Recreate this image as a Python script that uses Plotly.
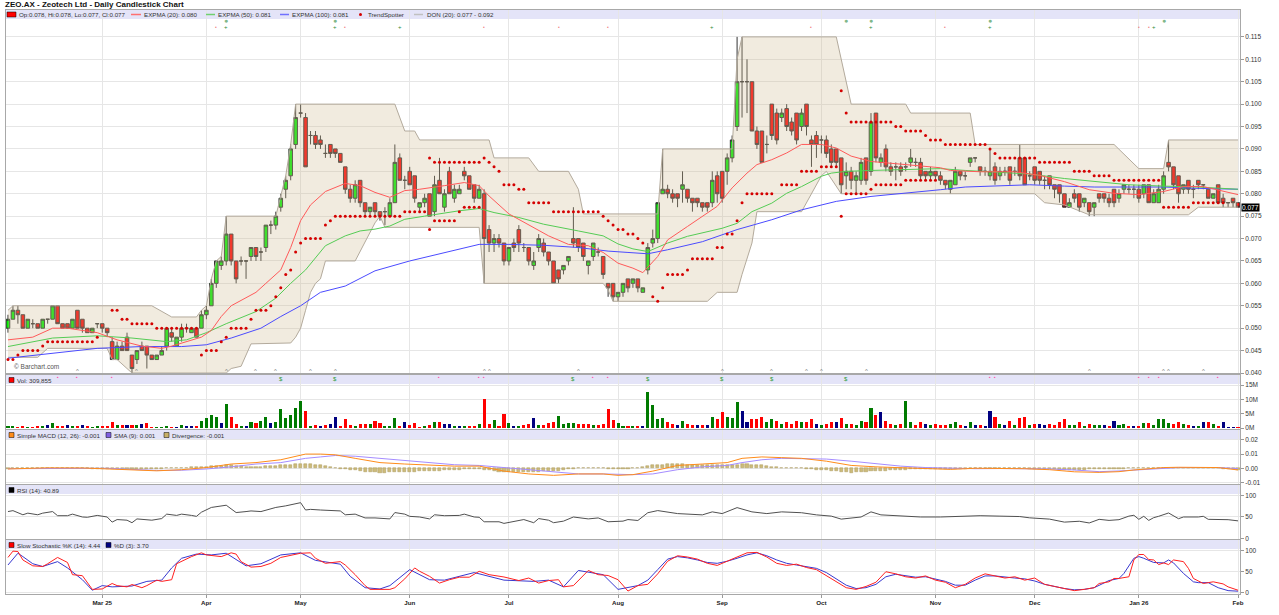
import plotly.graph_objects as go

# ---------------- DATA ----------------
month_labels = ["Mar 25", "Apr", "May", "Jun", "Jul", "Aug", "Sep", "Oct", "Nov", "Dec", "Jan 26", "Feb"]
month_start_idx = [19, 40, 59, 81, 101, 123, 144, 164, 187, 207, 228, 248]

opens = [.050,.052,.054,.053,.050,.051,.051,.050,.052,.052,
 .055,.051,.051,.050,.054,.052,.050,.049,.051,.051,
 .050,.047,.043,.046,.048,.044,.043,.046,.046,.044,
 .043,.044,.046,.049,.046,.048,.050,.049,.050,.050,
 .053,.055,.060,.064,.065,.071,.065,.065,.065,.066,
 .068,.067,.068,.073,.073,.077,.081,.084,.091,.098,
 .097,.093,.093,.092,.089,.091,.090,.089,.086,.081,
 .079,.083,.078,.076,.078,.076,.076,.075,.078,.088,
 .083,.085,.084,.077,.078,.080,.076,.083,.077,.085,
 .079,.080,.085,.084,.082,.079,.080,.072,.069,.070,
 .069,.065,.069,.072,.068,.068,.064,.068,.069,.067,
 .065,.063,.063,.065,.070,.070,.069,.064,.066,.067,
 .066,.060,.060,.057,.058,.061,.060,.061,.058,.063,
 .069,.070,.080,.081,.080,.080,.081,.081,.079,.079,
 .078,.078,.078,.084,.085,.085,.088,.095,.105,.105,
 .105,.094,.094,.091,.100,.098,.097,.099,.096,.098,
 .095,.100,.092,.093,.092,.092,.090,.090,.088,.084,
 .085,.083,.083,.088,.085,.098,.087,.090,.086,.086,
 .086,.086,.087,.087,.087,.085,.084,.085,.084,.083,
 .081,.082,.085,.084,.087,.088,.086,.085,.084,.086,
 .084,.085,.086,.085,.088,.088,.084,.086,.085,.083,
 .084,.082,.082,.080,.077,.080,.080,.078,.078,.077,
 .080,.080,.079,.081,.079,.081,.081,.081,.081,.080,
 .082,.078,.078,.081,.087,.086,.084,.081,.083,.081,
 .083,.082,.081,.079,.082,.079,.078,.079,.078]
closes = [.052,.054,.053,.050,.052,.051,.050,.052,.052,.055,
 .051,.050,.050,.052,.050,.050,.049,.050,.051,.050,
 .049,.043,.046,.045,.045,.041,.045,.045,.044,.043,
 .044,.045,.050,.048,.048,.050,.050,.050,.048,.053,
 .054,.060,.065,.065,.071,.065,.061,.065,.065,.068,
 .066,.067,.073,.073,.075,.079,.083,.090,.097,.098,
 .086,.093,.091,.091,.089,.089,.089,.087,.081,.079,
 .082,.078,.076,.077,.076,.075,.076,.078,.087,.083,
 .083,.082,.079,.078,.079,.075,.082,.080,.080,.080,
 .081,.081,.084,.081,.079,.081,.070,.069,.070,.069,
 .065,.068,.068,.069,.068,.065,.065,.070,.067,.065,
 .060,.061,.064,.066,.069,.068,.066,.065,.069,.067,
 .062,.059,.057,.058,.060,.059,.061,.059,.059,.068,
 .070,.078,.081,.080,.079,.079,.082,.079,.078,.078,
 .077,.077,.083,.080,.079,.088,.092,.105,.105,.105,
 .094,.091,.087,.091,.093,.092,.098,.095,.094,.092,
 .098,.095,.091,.091,.092,.089,.087,.087,.082,.085,
 .083,.084,.087,.083,.096,.088,.088,.086,.085,.086,
 .085,.086,.088,.087,.084,.084,.085,.084,.083,.082,
 .083,.085,.084,.084,.088,.088,.085,.085,.085,.083,
 .085,.085,.083,.085,.084,.082,.084,.083,.083,.083,
 .082,.081,.080,.077,.078,.079,.077,.079,.076,.078,
 .079,.079,.078,.078,.080,.082,.081,.081,.079,.082,
 .078,.080,.081,.084,.086,.082,.080,.082,.081,.081,
 .082,.082,.079,.080,.078,.078,.078,.078,.077]
highs = [.053,.055,.055,.053,.052,.052,.051,.052,.052,.055,
 .055,.051,.051,.052,.054,.052,.050,.050,.051,.051,
 .050,.048,.047,.047,.049,.044,.045,.047,.046,.044,
 .044,.046,.050,.050,.048,.051,.051,.050,.050,.054,
 .055,.061,.065,.066,.075,.071,.065,.066,.065,.068,
 .068,.068,.073,.074,.076,.080,.084,.091,.100,.100,
 .098,.094,.094,.093,.091,.091,.090,.089,.086,.082,
 .083,.083,.078,.077,.078,.076,.077,.079,.091,.089,
 .084,.086,.084,.078,.080,.080,.084,.088,.081,.086,
 .082,.082,.086,.084,.082,.082,.081,.073,.071,.071,
 .069,.068,.070,.073,.069,.068,.067,.071,.070,.067,
 .065,.063,.064,.066,.077,.070,.069,.065,.069,.068,
 .066,.060,.060,.058,.060,.061,.061,.061,.059,.069,
 .072,.078,.090,.082,.081,.080,.085,.081,.079,.079,
 .078,.078,.085,.085,.085,.089,.093,.115,.115,.110,
 .105,.095,.094,.093,.100,.099,.099,.100,.097,.098,
 .099,.100,.093,.094,.093,.093,.091,.090,.088,.087,
 .086,.085,.088,.088,.098,.098,.089,.091,.087,.087,
 .087,.087,.090,.088,.088,.085,.086,.085,.085,.083,
 .083,.086,.085,.085,.088,.088,.086,.086,.090,.087,
 .086,.086,.086,.086,.091,.088,.085,.086,.085,.084,
 .084,.082,.082,.080,.079,.081,.080,.079,.078,.078,
 .080,.080,.080,.081,.081,.082,.082,.082,.082,.082,
 .082,.081,.082,.085,.092,.086,.084,.082,.083,.082,
 .083,.082,.081,.080,.082,.080,.078,.079,.078]
lows = [.049,.052,.051,.050,.050,.050,.050,.050,.051,.052,
 .051,.050,.050,.050,.050,.049,.049,.049,.050,.049,
 .048,.043,.043,.045,.045,.040,.042,.045,.041,.043,
 .043,.044,.045,.047,.046,.047,.049,.049,.048,.050,
 .052,.055,.059,.063,.064,.064,.060,.064,.061,.065,
 .065,.065,.067,.071,.072,.076,.079,.083,.090,.097,
 .086,.091,.090,.090,.088,.088,.088,.087,.080,.078,
 .078,.077,.075,.075,.075,.074,.073,.075,.078,.083,
 .081,.082,.078,.076,.077,.075,.075,.080,.076,.080,
 .078,.080,.083,.081,.078,.079,.060,.067,.067,.068,
 .064,.064,.067,.067,.067,.064,.063,.067,.066,.064,
 .060,.060,.062,.064,.068,.067,.065,.062,.065,.066,
 .061,.057,.056,.056,.057,.058,.059,.058,.058,.062,
 .068,.069,.080,.079,.078,.077,.078,.078,.076,.077,
 .076,.076,.077,.078,.078,.082,.087,.094,.097,.098,
 .094,.090,.087,.089,.092,.091,.096,.094,.093,.091,
 .094,.093,.086,.088,.089,.088,.086,.086,.080,.081,
 .081,.080,.082,.082,.084,.087,.086,.085,.084,.083,
 .084,.085,.086,.086,.083,.083,.083,.083,.082,.081,
 .080,.082,.083,.083,.086,.087,.084,.084,.083,.082,
 .083,.084,.082,.084,.083,.082,.083,.082,.082,.081,
 .081,.079,.078,.077,.077,.078,.076,.077,.075,.075,
 .078,.078,.077,.077,.078,.080,.080,.079,.078,.079,
 .078,.078,.078,.080,.085,.081,.078,.080,.080,.079,
 .081,.081,.079,.079,.078,.077,.077,.077,.077]
volume_m = [0.7,0.7,0.3,0.5,0.2,0.3,0.5,0.6,1.2,1.9,
 0.7,0.5,1.2,0.7,0.6,0.9,0.6,0.3,0.4,0.5,
 0.6,2.0,1.0,0.9,1.1,1.1,1.1,1.4,1.6,0.3,
 0.3,0.3,0.4,0.3,0.3,1.0,0.5,0.5,0.7,2.3,
 3.5,4.5,4.0,1.8,8.5,4.0,1.5,0.8,0.8,2.2,
 1.8,2.6,3.8,1.8,2.2,6.8,3.5,4.5,7.0,9.5,
 6.0,0.8,1.0,0.5,0.9,1.3,4.0,0.8,3.0,1.2,
 0.7,1.3,1.5,1.3,2.6,1.6,0.7,0.4,3.5,0.7,
 2.0,1.0,1.8,0.2,0.5,1.2,2.0,2.0,1.5,1.5,
 0.5,0.4,0.4,0.4,0.7,1.4,10.0,1.5,2.8,0.6,
 5.0,1.8,0.8,0.7,1.0,1.3,3.5,1.0,1.1,1.8,
 2.2,4.2,1.3,1.6,1.8,1.3,1.4,1.4,1.1,1.2,
 1.3,6.5,2.8,1.8,0.6,0.5,0.5,0.6,0.5,12.5,
 8.0,3.0,3.5,2.0,1.5,1.0,2.5,1.5,1.0,1.0,
 1.2,1.0,4.0,3.0,5.5,4.0,3.5,9.0,6.0,2.0,
 3.0,3.0,4.0,2.0,3.0,2.5,1.5,2.0,1.5,2.5,
 2.0,2.0,3.0,1.5,1.0,1.5,2.0,2.0,3.5,1.5,
 1.5,1.0,2.5,2.0,7.0,4.5,5.5,2.5,1.5,1.0,
 1.5,9.5,2.0,1.0,2.0,1.5,1.0,1.5,1.2,1.0,
 1.5,2.0,1.0,0.8,2.0,1.0,1.2,0.8,6.0,4.0,
 1.5,1.0,2.5,1.0,3.5,4.0,1.0,1.5,1.5,1.0,
 1.5,1.2,2.0,3.0,1.0,1.0,2.0,0.8,1.5,1.0,
 1.2,1.0,0.8,2.5,1.0,1.5,0.5,0.5,0.7,1.8,
 1.8,1.2,3.3,3.3,1.6,1.3,2.0,1.4,1.2,0.8,
 0.4,2.1,2.1,1.4,0.7,2.0,0.2,0.3,0.31]

# Exponential moving averages, read at sample days
ema20_idx = [0,5,9,12,18,22,27,31,33,36,39,41,43,45,50,52,55,57,59,61,64,68,71,74,77,80,83,88,92,95,97,101,105,109,113,117,120,123,126,128,131,133,137,140,143,146,149,151,154,157,160,164,167,170,174,177,181,184,188,190,196,203,208,213,218,223,228,233,237,241,245,248]
ema20_val = [.0474,.048,.050,.050,.049,.0474,.046,.0455,.046,.047,.048,.0495,.0526,.055,.058,.060,.063,.068,.074,.0775,.0805,.0823,.0818,.0803,.0792,.0807,.081,.0818,.0825,.0818,.0795,.0755,.073,.0706,.0687,.0684,.0669,.0645,.0634,.0624,.066,.0697,.0727,.075,.0772,.0813,.0846,.0865,.0876,.0891,.091,.091,.0902,.0884,.0872,.0869,.0865,.0863,.0858,.0852,.0849,.0849,.0841,.0827,.0809,.0801,.0798,.0805,.0816,.0816,.0805,.0798]
ema50_idx = [0,5,9,18,25,32,36,40,44,50,54,57,60,64,68,71,74,77,80,84,91,95,98,103,108,115,120,123,126,129,133,137,144,147,150,154,157,160,164,166,169,174,181,188,193,199,206,213,219,226,233,240,248]
ema50_val = [.0459,.047,.0478,.0483,.0478,.047,.0474,.049,.051,.0537,.0567,.060,.063,.0684,.0706,.0717,.0721,.0728,.0743,.075,.0762,.0767,.0758,.0747,.0732,.0717,.0706,.0688,.0677,.0671,.0690,.0705,.0723,.0734,.076,.0779,.0801,.0816,.0839,.0846,.085,.0852,.0854,.0856,.0852,.0849,.0844,.0834,.0827,.082,.0817,.0815,.081]
ema100_idx = [0,9,18,27,35,40,45,51,55,59,63,68,74,81,88,95,101,108,115,121,125,129,133,140,147,154,160,167,174,181,188,193,199,206,213,219,226,233,240,248]
ema100_val = [.0433,.0444,.0455,.0459,.0459,.0463,.0478,.050,.0526,.055,.058,.0594,.0628,.065,.0669,.0687,.0687,.0685,.068,.0672,.0669,.0666,.0675,.0693,.072,.0742,.0764,.0783,.0794,.0801,.0809,.0815,.0817,.082,.0817,.0815,.0815,.0815,.0812,.081]

# Donchian channel (20) corners
don_up_idx = [0,1,29,33,38,39,40,41,42,43,44,54,56,57,58,78,80,82,83,97,98,105,107,113,115,116,131,132,146,147,148,167,170,181,182,194,195,223,228,233,234,248]
don_up_val = [.054,.055,.055,.0525,.0525,.054,.055,.061,.065,.066,.075,.075,.084,.091,.100,.100,.094,.094,.092,.092,.088,.088,.085,.085,.081,.0755,.0755,.090,.090,.110,.115,.115,.100,.100,.098,.098,.091,.091,.0856,.0856,.092,.092]
don_lo_idx = [0,6,8,20,21,22,25,44,45,47,49,57,58,59,60,61,62,63,64,70,74,75,76,95,96,120,121,122,141,143,147,148,150,151,160,161,164,165,168,207,209,213,218,238,240,248]
don_lo_val = [.0435,.0435,.0455,.0455,.043,.043,.040,.040,.041,.0415,.0465,.0467,.048,.050,.054,.058,.060,.061,.065,.065,.0735,.075,.0725,.0725,.060,.060,.0585,.056,.056,.058,.058,.062,.069,.076,.076,.078,.084,.085,.080,.080,.078,.0775,.0753,.0753,.077,.077]

# TrendSpotter dots: (first day, last day, level)
ts_runs = [(0,1,.043),(2,2,.044),(3,6,.045),(7,7,.046),(8,17,.047),(18,18,.048),
 (21,22,.054),(23,24,.052),(25,29,.051),(30,38,.050),
 (39,39,.044),(40,42,.045),(43,43,.047),(44,44,.048),(45,48,.050),(49,49,.052),(50,52,.054),
 (53,53,.055),(54,54,.057),(55,55,.059),(56,56,.062),(57,57,.063),(58,58,.067),(59,59,.069),
 (60,63,.070),(64,64,.073),(65,65,.074),(66,79,.075),(80,84,.076),(85,85,.072),(86,90,.074),
 (91,91,.076),(92,95,.077),
 (85,85,.088),(86,95,.087),(96,96,.088),(97,97,.087),(98,98,.086),(99,99,.085),(100,102,.082),
 (103,104,.081),(105,109,.078),(110,119,.076),(120,120,.075),(121,121,.074),(122,122,.073),
 (123,124,.072),(125,126,.071),(127,127,.070),(128,128,.069),
 (130,130,.057),(131,131,.056),(132,132,.059),(133,136,.062),(137,137,.063),(138,142,.0655),
 (143,144,.068),(145,146,.071),(147,147,.074),(148,148,.078),(149,154,.080),(156,159,.082),
 (160,163,.085),(164,167,.086),
 (168,168,.103),(169,169,.098),(170,178,.096),(179,180,.095),(181,184,.094),(185,185,.093),
 (186,188,.092),(189,197,.091),(198,198,.090),(199,199,.089),(200,207,.088),(208,214,.087),
 (215,218,.085),(219,222,.084),(223,232,.083),
 (168,168,.075),(169,173,.080),(174,174,.081),(175,180,.082),(181,187,.083),(233,238,.077),(239,245,.078)]

# MACD (12,26) and its SMA(9), read at sample days
macd_idx = [0,8,15,20,25,30,35,40,45,50,55,60,63,66,70,75,80,85,90,95,100,105,110,115,120,123,126,130,135,140,145,148,152,156,160,165,170,175,180,185,190,195,200,205,210,215,220,224,227,230,233,236,240,244,248]
macd_val = [-.0005,.0003,.0002,-.0005,-.0015,-.0018,-.001,.0005,.003,.004,.006,.010,.010,.0095,.007,.004,.003,.002,.0015,.0015,-.002,-.004,-.005,-.004,-.004,-.005,-.0045,-.002,.002,.003,.004,.007,.008,.0075,.007,.005,.002,.001,.0005,-.0002,-.0008,0,0,-.0003,-.001,-.0025,-.0029,-.0024,-.0012,-.0002,.0005,.0007,.0007,.0005,-.0012]
signal_val = [-.0003,0,.0002,0,-.0008,-.0015,-.0014,-.0005,.001,.003,.004,.007,.008,.009,.0085,.007,.0055,.004,.0025,.002,.0005,-.0015,-.003,-.004,-.004,-.0045,-.0045,-.004,-.001,.001,.002,.004,.006,.007,.007,.0065,.005,.003,.0015,.0005,0,-.0003,-.0002,-.0002,-.0005,-.0012,-.0024,-.0019,-.0012,-.0005,.0002,.0005,.0005,.0005,-.0002]
# MACD divergence bars (daily)
divergence = [-.0002,-.0001,0,.0001,.0002,.0003,.0003,.0003,.0003,.0003,
 .0002,.0002,.0001,.0001,0,0,-.0001,-.0002,-.0003,-.0004,
 -.0005,-.0006,-.0007,-.0007,-.0007,-.0007,-.0006,-.0005,-.0004,-.0003,
 -.0003,-.0002,0,.0001,.0002,.0004,.0005,.0006,.0008,.0009,
 .001,.0013,.0016,.0018,.002,.002,.0017,.0014,.0012,.001,
 .001,.0012,.0014,.0016,.0018,.002,.0023,.0026,.0028,.003,
 .003,.0027,.0023,.002,.0015,.001,.0005,-.0002,-.0008,-.0012,
 -.0015,-.002,-.0024,-.0027,-.0029,-.003,-.003,-.0029,-.0027,-.0026,
 -.0025,-.0024,-.0023,-.0022,-.0021,-.002,-.0018,-.0016,-.0014,-.0012,
 -.001,-.0009,-.0008,-.0007,-.0006,-.0005,-.001,-.0015,-.002,-.0023,
 -.0025,-.0026,-.0026,-.0026,-.0025,-.0025,-.0024,-.0023,-.0022,-.0021,
 -.002,-.0016,-.0012,-.0008,-.0004,0,0,0,0,0,
 0,-.0002,-.0004,-.0005,-.0004,-.0002,0,.0005,.001,.0015,
 .002,.0023,.0026,.0028,.003,.003,.0028,.0025,.0023,.0021,
 .002,.002,.002,.002,.002,.002,.0023,.0026,.003,.0028,
 .0026,.0024,.002,.0016,.0012,.0008,.0005,.0003,.0002,.0001,
 0,-.0003,-.0006,-.0009,-.0012,-.0015,-.0018,-.0021,-.0025,-.0028,
 -.003,-.0028,-.0026,-.0024,-.0022,-.002,-.0018,-.0016,-.0013,-.0011,
 -.001,-.0009,-.0008,-.0008,-.0007,-.0007,-.0007,-.0008,-.0008,-.0008,
 -.0008,-.0006,-.0004,-.0002,0,.0003,.0003,.0003,.0002,.0002,
 .0002,.0001,.0001,0,0,-.0001,-.0002,-.0003,-.0004,-.0005,
 -.0005,-.0007,-.0009,-.0011,-.0013,-.0013,-.0012,-.001,-.0008,-.0006,
 -.0005,-.0005,-.0005,-.0005,-.0005,-.0003,-.0001,0,.0001,.0002,
 .0003,.0003,.0003,.0003,.0003,.0002,.0002,.0002,.0002,.0002,
 .0002,.0001,0,0,0,-.0003,-.0006,-.0008,-.001]

# RSI (14), read at sample days
rsi_idx = [0,1,3,4,6,7,9,10,12,13,15,16,18,20,21,22,24,25,26,29,31,32,34,35,37,38,39,41,44,45,46,48,49,51,53,54,56,58,59,60,61,63,67,68,70,72,74,77,78,80,81,83,85,86,88,91,92,94,95,96,99,100,102,104,106,107,109,110,112,114,117,119,121,124,125,127,129,131,135,140,142,144,147,150,153,156,160,163,166,168,172,174,176,180,184,188,192,196,200,204,206,210,213,216,218,220,222,224,226,227,228,229,230,231,232,234,236,237,240,241,242,244,246,248]
rsi_val = [62.7,64.9,55.2,59,55.2,59,62.7,53,53,56.7,50,49.3,53.7,50,38,44,42.5,36.6,45.5,42.5,46.3,56.7,53.7,56.7,53.7,51.5,61.2,72.4,77.6,67.9,60.4,62.7,64.2,62.7,68.7,72.4,76.1,81.3,83.6,66.4,67.9,66.4,64.2,55.2,56.7,47.8,47.8,45.5,60.4,56.7,51.5,50,45.5,55.2,53,53.7,56.7,50,49.3,38.8,38.8,35,40.3,44,36.6,46.3,42.5,36.6,40.3,50,45.5,47.8,38.8,40.3,44,41.8,60,65,58,55,62,58,72,62,58,62,60,55,52,45,50,62,55,53,50,50,52,53,52,51,48,45,38,40,36,44.5,42,43.7,52,54,44.5,51.6,42,48.4,51.6,59.4,46,50,50,51.6,44.5,43.7,43.7,40.9]

# Slow stochastic %K(14) and %D(3), read at sample days
stk_idx = [0,1,2,3,5,7,8,10,12,13,15,16,17,19,21,22,24,25,27,28,30,31,33,34,37,39,40,43,45,46,47,49,51,53,55,59,61,62,64,67,68,70,72,73,77,78,80,82,83,85,87,89,91,93,95,97,100,103,105,107,109,111,112,114,117,119,121,123,125,127,129,131,133,135,137,139,141,143,145,147,149,151,153,155,157,159,161,163,165,167,169,171,173,175,177,179,181,183,185,187,189,191,193,195,197,199,201,203,205,207,209,211,213,215,217,219,220,222,223,224,226,227,228,229,230,231,232,233,234,235,237,238,239,241,242,243,245,246,248]
stk_val = [84,99,98,78,64,62.5,69,84,72,43,40.6,23,8,9,22,17,14,19.5,12,17,30,27,31,69,86,95,90,86,95,92,74,61,62.5,70,84,94,95,82,70,74,66,43,17,8,8,12,33,59,51,39,23,31,37,37,51,43,37.5,29,35,23,29,31,14,17,53,43,41,31,4,17,20,45,75,88,85,80,70,65,75,85,95,96,85,70,65,68,60,55,40,25,12,8,15,25,50,45,38,35,40,30,25,12,20,35,45,40,35,38,30,35,20,15,10,5,8,12,22,26,34,34,38,78,91,91,79,78,67,71,67,78,74,58,34,22,24,26,21,14,6,3,4.4]
std_idx = [0,2,3,5,7,8,10,12,15,17,19,21,25,28,31,33,35,38,41,44,48,51,55,59,62,67,69,72,75,77,81,85,88,94,100,106,109,112,115,120,123,127,129,131,133,135,137,139,141,143,145,147,149,151,153,155,157,159,161,163,165,167,169,171,173,175,177,179,181,183,185,187,189,191,193,195,197,199,201,203,205,207,209,211,213,215,217,219,220,222,224,225,227,228,229,231,233,234,235,237,239,240,242,244,246,248]
std_val = [66,94,86,69,62.5,66,74,59,31,6,17,14,16,27,30,59,82,92,90,94,64,69,90,95,77,68,39,12,9,17,55,31,30,48,30,27,30,14,53,43,8,17,30,55,80,86,83,78,72,70,75,82,90,95,88,78,70,66,62,58,48,33,18,10,12,20,38,44,40,37,38,33,27,18,18,30,40,40,37,35,33,28,20,15,10,7,8,12,18,29,34,46,82,86,82,72,71,78,71,46,26,24,24,12,5,3.7]

# Event markers (day indices)
ev_circle_top = [44, 66, 169, 174, 198, 233]
ev_plus_top = [44, 66, 79, 142, 174, 198, 231]
ev_red_top = [42, 68, 96, 111, 121, 162, 189, 228, 230]
ev_caret_bottom = [14, 26, 44, 50, 54, 61, 66, 96, 97, 115, 144, 154, 161, 164, 173, 218, 233, 234, 241]
ev_pink_vol = [10, 14, 21, 87, 95, 96, 118, 121, 198, 199, 228, 230, 232, 244]
ev_dollar_vol = [55, 66, 114, 129, 144, 154, 169]

# ---------------- FIGURE ----------------
N = len(closes)
idx = list(range(N))
FONT = "Liberation Sans, Arial, sans-serif"
L, R, T, B = 6, 1240, 10, 594
def px(x):
    return (x - L) / (R - L)
def py(y):
    return (B - y) / (B - T)

fig = go.Figure()

# Donchian channel fill + borders
poly_x = don_up_idx + don_lo_idx[::-1]
poly_y = don_up_val + don_lo_val[::-1]
fig.add_trace(go.Scatter(x=poly_x, y=poly_y, fill="toself", mode="none",
                         fillcolor="rgba(208,190,150,0.30)", xaxis="x", yaxis="y", hoverinfo="skip"))
for xs, ys in ((don_up_idx, don_up_val), (don_lo_idx, don_lo_val)):
    fig.add_trace(go.Scatter(x=xs, y=ys, mode="lines", line=dict(color="#B3AA9C", width=1),
                             xaxis="x", yaxis="y", hoverinfo="skip"))

# EMAs
for xs, ys, col in ((ema100_idx, ema100_val, "#4B4BFF"), (ema50_idx, ema50_val, "#55CC55"),
                    (ema20_idx, ema20_val, "#FF5A5A")):
    fig.add_trace(go.Scatter(x=xs, y=ys, mode="lines", line=dict(color=col, width=1),
                             xaxis="x", yaxis="y", hoverinfo="skip"))

# TrendSpotter
ts_x, ts_y = [], []
for a, b, v in ts_runs:
    for d in range(a, b + 1):
        ts_x.append(d)
        ts_y.append(v)
fig.add_trace(go.Scatter(x=ts_x, y=ts_y, mode="markers", marker=dict(color="#D40000", size=3),
                         xaxis="x", yaxis="y", hoverinfo="skip"))

# Candles
fig.add_trace(go.Candlestick(x=idx, open=opens, high=highs, low=lows, close=closes,
                             increasing=dict(fillcolor="#00EE00", line=dict(color="#333333", width=1)),
                             decreasing=dict(fillcolor="#FF0000", line=dict(color="#333333", width=1)),
                             whiskerwidth=0, xaxis="x", yaxis="y", hoverinfo="skip"))

# Volume
vcol = []
for i in range(N):
    if i == 0 or closes[i] > closes[i - 1]:
        vcol.append("#007A00")
    elif closes[i] < closes[i - 1]:
        vcol.append("#FF0000")
    else:
        vcol.append("#000080")
fig.add_trace(go.Bar(x=idx, y=volume_m, marker=dict(color=vcol, line=dict(width=0)), width=0.62,
                     xaxis="x2", yaxis="y2", hoverinfo="skip"))

# MACD
fig.add_trace(go.Bar(x=idx, y=divergence, marker=dict(color="#CDBB7A", line=dict(color="#A8965A", width=0.5)),
                     width=0.62, xaxis="x3", yaxis="y3", hoverinfo="skip"))
fig.add_trace(go.Scatter(x=macd_idx, y=signal_val, mode="lines", line=dict(color="#A58CFF", width=1),
                         xaxis="x3", yaxis="y3", hoverinfo="skip"))
fig.add_trace(go.Scatter(x=macd_idx, y=macd_val, mode="lines", line=dict(color="#FF8C1A", width=1),
                         xaxis="x3", yaxis="y3", hoverinfo="skip"))

# RSI
fig.add_trace(go.Scatter(x=rsi_idx, y=rsi_val, mode="lines", line=dict(color="#505050", width=1),
                         xaxis="x4", yaxis="y4", hoverinfo="skip"))

# Stochastic
fig.add_trace(go.Scatter(x=std_idx, y=std_val, mode="lines", line=dict(color="#3838D0", width=1),
                         xaxis="x5", yaxis="y5", hoverinfo="skip"))
fig.add_trace(go.Scatter(x=stk_idx, y=stk_val, mode="lines", line=dict(color="#FF2020", width=1),
                         xaxis="x5", yaxis="y5", hoverinfo="skip"))

# ---------------- AXES ----------------
GRID = "#E6E6E6"
BORDER = "#A8A8A8"
tick_font = dict(family=FONT, size=6.5, color="#333333")
domains = {1: (py(373), py(10)), 2: (py(429), py(375)), 3: (py(484), py(430)),
           4: (py(539), py(485)), 5: (py(594), py(540))}
layout = dict(width=1279, height=615, margin=dict(l=L, r=1279 - R, t=T, b=615 - B),
              paper_bgcolor="white", plot_bgcolor="rgba(0,0,0,0)", showlegend=False,
              font=dict(family=FONT, size=6.5, color="#333333"), bargap=0,
              boxgap=0.28, boxgroupgap=0)
for k in range(1, 6):
    xa = dict(range=[-0.4, 248.4], domain=[0, 1], anchor="y" if k == 1 else "y%d" % k,
              showgrid=True, gridcolor=GRID, gridwidth=1, tickmode="array",
              tickvals=month_start_idx, ticktext=["<b>%s</b>" % m for m in month_labels],
              showline=True, mirror=True, linecolor=BORDER, linewidth=1, zeroline=False,
              showticklabels=(k == 5), ticks="outside" if k == 5 else "", ticklen=3,
              tickcolor="#999999", tickfont=dict(family=FONT, size=6.2, color="#222222"),
              fixedrange=True)
    if k == 1:
        xa["rangeslider"] = dict(visible=False)
    else:
        xa["matches"] = "x"
    layout["xaxis" if k == 1 else "xaxis%d" % k] = xa

ya_common = dict(side="right", showgrid=True, gridcolor=GRID, gridwidth=1, zeroline=False,
                 showline=True, mirror=True, linecolor=BORDER, linewidth=1, ticks="outside",
                 ticklen=3, tickcolor="#999999", tickfont=tick_font, fixedrange=True)
price_ticks = [0.040, 0.045, 0.050, 0.055, 0.060, 0.065, 0.070, 0.075, 0.080, 0.085, 0.090,
               0.095, 0.100, 0.105, 0.110, 0.115]
layout["yaxis"] = dict(ya_common, domain=domains[1], anchor="x", range=[0.0400, 0.1210],
                       tickvals=price_ticks, ticktext=["%.3f" % v for v in price_ticks])
layout["yaxis2"] = dict(ya_common, domain=domains[2], anchor="x2", range=[-0.35, 18.5],
                        tickvals=[0, 5, 10, 15], ticktext=["0M", "5M", "10M", "15M"])
layout["yaxis3"] = dict(ya_common, domain=domains[3], anchor="x3", range=[-0.0111, 0.0270],
                        tickvals=[-0.01, 0, 0.01, 0.02], ticktext=["-0.01", "0.00", "0.01", "0.02"])
layout["yaxis4"] = dict(ya_common, domain=domains[4], anchor="x4", range=[-1.6, 125],
                        tickvals=[0, 50, 100], ticktext=["0", "50", "100"])
layout["yaxis5"] = dict(ya_common, domain=domains[5], anchor="x5", range=[-3, 125.5],
                        tickvals=[0, 50, 100], ticktext=["0", "50", "100"])
fig.update_layout(**layout)

# ---------------- HEADERS / LEGENDS ----------------
shapes = []
annotations = []
HEADER = "#E4E4F8"
for top in (10, 375, 430, 485, 540):
    shapes.append(dict(type="rect", xref="paper", yref="paper", x0=0, x1=1, y0=py(top + 9), y1=py(top),
                       fillcolor=HEADER, line=dict(width=0), layer="below"))

HS = 6.2
def text(x, y, s, size=HS, color="#333333", bold=False):
    annotations.append(dict(xref="paper", yref="paper", x=px(x), y=py(y), text=("<b>%s</b>" % s) if bold else s,
                            showarrow=False, xanchor="left", yanchor="middle",
                            font=dict(family=FONT, size=size, color=color)))

def swatch(x0, x1, y0, y1, color, line="#000000"):
    shapes.append(dict(type="rect", xref="paper", yref="paper", x0=px(x0), x1=px(x1), y0=py(y1), y1=py(y0),
                       fillcolor=color, line=dict(color=line, width=0.5), layer="above"))

def legline(x0, x1, y, color):
    shapes.append(dict(type="line", xref="paper", yref="paper", x0=px(x0), x1=px(x1), y0=py(y), y1=py(y),
                       line=dict(color=color, width=1.5), layer="above"))

# title
annotations.append(dict(xref="paper", yref="paper", x=px(3), y=py(4.5), text="<b>ZEO.AX - Zeotech Ltd - Daily Candlestick Chart</b>",
                        showarrow=False, xanchor="left", yanchor="middle",
                        font=dict(family=FONT, size=8, color="#111111")))
# price header
hy = 14.5
swatch(7, 16, 12, 17, "#FF0000")
text(17, hy, "Op:0.078, Hi:0.078, Lo:0.077, Cl:0.077")
legline(131, 141, hy, "#FF7070"); text(142, hy, "EXPMA (20): 0.080")
legline(206, 215, hy, "#70D070"); text(216, hy, "EXPMA (50): 0.081")
legline(280, 289, hy, "#7070FF"); text(290, hy, "EXPMA (100): 0.081")
shapes.append(dict(type="circle", xref="paper", yref="paper", x0=px(359), x1=px(362), y0=py(16), y1=py(13),
                   fillcolor="#D40000", line=dict(width=0)))
text(366, hy, "TrendSpotter")
legline(414, 423, hy, "#C0C0C0"); text(425, hy, "DON (20): 0.077 - 0.092")
# volume header
vy = 380
swatch(9, 14, 377.5, 382.5, "#FF0000"); text(15, vy, "Vol: 309,855")
# MACD header
my = 435
swatch(9, 14, 432.5, 437.5, "#FF8C1A"); text(15, my, "Simple MACD (12, 26): -0.001")
swatch(106, 111, 432.5, 437.5, "#8060E0"); text(112, my, "SMA (9): 0.001")
swatch(164, 169, 432.5, 437.5, "#C8B068"); text(170, my, "Divergence: -0.001")
# RSI header
ry = 490
swatch(9, 14, 487.5, 492.5, "#000000"); text(15, ry, "RSI (14): 40.89")
# Stoch header
sy = 545
swatch(9, 14, 542.5, 547.5, "#FF0000"); text(15, sy, "Slow Stochastic %K (14): 4.44")
swatch(106, 111, 542.5, 547.5, "#000080"); text(112, sy, "%D (3): 3.70")

# copyright
text(12, 367, "© Barchart.com", size=6.5, color="#555555")

# last price label
annotations.append(dict(xref="paper", yref="y", x=px(1241), y=closes[-1], text="0.077", showarrow=False,
                        xanchor="left", yanchor="middle", bgcolor="#000000", borderpad=0,
                        font=dict(family=FONT, size=6.5, color="#FFFFFF")))

# event markers
for d in ev_circle_top:
    annotations.append(dict(xref="x", yref="paper", x=d, y=py(14.5), text="●", showarrow=False,
                            font=dict(size=7, color="#7FB88A")))
for d in ev_plus_top:
    annotations.append(dict(xref="x", yref="paper", x=d, y=py(22), text="+", showarrow=False,
                            font=dict(size=6, color="#2E8B3A")))
for d in ev_red_top:
    annotations.append(dict(xref="x", yref="paper", x=d, y=py(22), text="•", showarrow=False,
                            font=dict(size=5, color="#F08080")))
for d in ev_caret_bottom:
    annotations.append(dict(xref="x", yref="paper", x=d, y=py(370.5), text="^", showarrow=False,
                            font=dict(size=6, color="#777777")))
for d in ev_pink_vol:
    annotations.append(dict(xref="x", yref="paper", x=d, y=py(377), text="▪", showarrow=False,
                            font=dict(size=5, color="#FF55AA")))
for d in ev_dollar_vol:
    annotations.append(dict(xref="x", yref="paper", x=d, y=py(379), text="$", showarrow=False,
                            font=dict(size=6, color="#2E9B3A")))

fig.update_layout(shapes=shapes, annotations=annotations)
fig.write_html("out.html")
